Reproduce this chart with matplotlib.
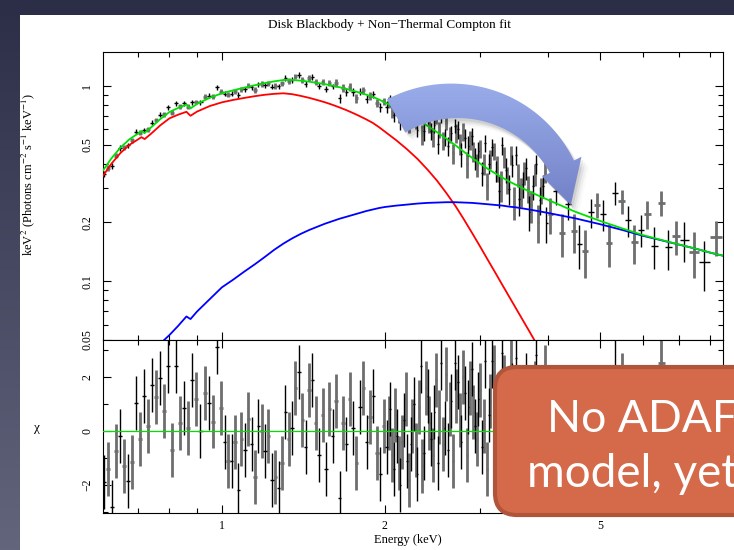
import numpy as np
import matplotlib
matplotlib.use("Agg")
import matplotlib.pyplot as plt
from matplotlib.patches import Polygon, FancyBboxPatch, Rectangle
from matplotlib.ticker import FixedLocator, NullFormatter

plt.rcParams['font.family'] = ['Liberation Serif', 'DejaVu Serif']
plt.rcParams['mathtext.fontset'] = 'stix'

# ---- spectrum: bin centres (keV), E^2 N(E), 1-sigma errors, residuals ----
bin_e = [
    0.605, 0.615, 0.626, 0.637, 0.648, 0.659, 0.670, 0.682, 0.694, 0.706,
    0.718, 0.730, 0.743, 0.756, 0.769, 0.782, 0.796, 0.809, 0.823, 0.838,
    0.852, 0.867, 0.882, 0.897, 0.913, 0.929, 0.945, 0.961, 0.978, 0.995,
    1.012, 1.027, 1.042, 1.057, 1.072, 1.087, 1.103, 1.119, 1.135, 1.151,
    1.168, 1.185, 1.202, 1.219, 1.237, 1.255, 1.273, 1.291, 1.310, 1.329,
    1.348, 1.368, 1.388, 1.408, 1.428, 1.449, 1.470, 1.491, 1.513, 1.535,
    1.557, 1.580, 1.603, 1.626, 1.650, 1.674, 1.698, 1.723, 1.748, 1.773,
    1.799, 1.825, 1.852, 1.879, 1.906, 1.934, 1.962, 1.990,
    2.019, 2.048, 2.078, 2.108, 2.139, 2.170, 2.201, 2.233, 2.266, 2.299,
    2.332, 2.366, 2.400, 2.435, 2.471, 2.507, 2.543, 2.580, 2.618, 2.656,
    2.694, 2.734, 2.773, 2.814, 2.855, 2.896, 2.938, 2.981, 3.025, 3.069,
    3.113, 3.159, 3.205, 3.251, 3.299, 3.347, 3.395, 3.445, 3.495, 3.546,
    3.597, 3.650, 3.703, 3.757, 3.811, 3.867, 3.923, 3.980,
    4.05, 4.15, 4.25, 4.36, 4.47, 4.58, 4.70, 4.82, 4.94, 5.07,
    5.20, 5.34, 5.48, 5.63, 5.79, 5.95, 6.12, 6.30, 6.49, 6.69,
    6.90, 7.15, 7.45, 7.80, 8.20,
]
flux = [
    0.354, 0.381, 0.389, 0.440, 0.482, 0.485, 0.496, 0.526, 0.583, 0.577,
    0.594, 0.602, 0.648, 0.670, 0.712, 0.716, 0.780, 0.730, 0.817, 0.786,
    0.815, 0.782, 0.824, 0.829, 0.825, 0.880, 0.892, 0.889, 0.984, 0.937,
    0.914, 0.904, 0.913, 0.942, 0.899, 0.963, 0.961, 1.003, 0.984, 0.956,
    1.022, 1.025, 1.011, 1.036, 0.993, 1.003, 0.997, 1.033, 1.100, 1.059,
    1.070, 1.121, 1.139, 1.069, 1.028, 1.101, 1.111, 1.049, 0.999, 1.047,
    0.967, 1.038, 0.995, 1.038, 0.866, 0.976, 0.929, 0.989, 0.930, 0.864,
    0.936, 0.954, 0.863, 0.888, 0.907, 0.817, 0.777, 0.836,
    0.782, 0.845, 0.707, 0.757, 0.646, 0.755, 0.663, 0.677, 0.734, 0.595,
    0.812, 0.587, 0.703, 0.589, 0.632, 0.507, 0.700, 0.550, 0.492, 0.572,
    0.626, 0.600, 0.447, 0.540, 0.495, 0.557, 0.426, 0.462, 0.359, 0.510,
    0.401, 0.486, 0.368, 0.291, 0.496, 0.373, 0.298, 0.393, 0.444, 0.264,
    0.315, 0.379, 0.227, 0.307, 0.398, 0.261, 0.309, 0.199,
    0.220, 0.290, 0.177, 0.249, 0.180, 0.155, 0.143, 0.226, 0.247, 0.221,
    0.157, 0.283, 0.258, 0.205, 0.158, 0.184, 0.222, 0.152, 0.253, 0.149,
    0.170, 0.163, 0.141, 0.125, 0.169,
]
flux_err = [
    0.011, 0.012, 0.013, 0.014, 0.015, 0.015, 0.016, 0.016, 0.017, 0.017,
    0.017, 0.018, 0.019, 0.019, 0.020, 0.021, 0.022, 0.022, 0.023, 0.023,
    0.024, 0.023, 0.023, 0.024, 0.025, 0.025, 0.026, 0.026, 0.027, 0.027,
    0.028, 0.028, 0.028, 0.029, 0.029, 0.029, 0.029, 0.030, 0.030, 0.030,
    0.030, 0.031, 0.031, 0.031, 0.032, 0.032, 0.032, 0.032, 0.038, 0.037,
    0.037, 0.037, 0.037, 0.037, 0.037, 0.037, 0.036, 0.036, 0.036, 0.036,
    0.036, 0.035, 0.035, 0.045, 0.044, 0.043, 0.043, 0.042, 0.042, 0.041,
    0.041, 0.040, 0.040, 0.039, 0.039, 0.038, 0.038, 0.037,
    0.057, 0.056, 0.055, 0.054, 0.053, 0.051, 0.050, 0.049, 0.048, 0.047,
    0.066, 0.064, 0.062, 0.061, 0.059, 0.058, 0.056, 0.055, 0.053, 0.052,
    0.050, 0.063, 0.061, 0.059, 0.058, 0.056, 0.054, 0.052, 0.051, 0.050,
    0.048, 0.047, 0.046, 0.055, 0.054, 0.053, 0.052, 0.051, 0.050, 0.048,
    0.047, 0.047, 0.046, 0.045, 0.044, 0.043, 0.043, 0.042,
    0.046, 0.045, 0.044, 0.042, 0.041, 0.040, 0.039, 0.038, 0.037, 0.040,
    0.039, 0.038, 0.037, 0.037, 0.036, 0.035, 0.037, 0.037, 0.036, 0.035,
    0.034, 0.038, 0.037, 0.036, 0.035,
]
chi = [
    -1.9, -1.4, -2.8, -0.75, -0.2, -1.3, -1.85, -1.15, 1.05, -0.3,
    1.3, 0.2, 1.7, 1.25, 1.95, 0.75, 2.4, -0.7, 2.4, 0.3,
    0.85, 0.1, 1.9, 1.2, 0.0, 1.4, 1.05, 0.35, 3.1, 0.85,
    -0.4, -1.1, -1.1, -0.4, -2.2, -0.3, -0.7, 0.45, -0.5, -1.7,
    0.2, 0.0, -0.75, -0.2, -1.8, -1.7, -2.1, -1.2, 0.7, -0.3,
    0.1, 1.6, 2.2, 0.4, -0.6, 1.5, 1.9, 0.3, -0.9, 0.6,
    -1.4, 0.8, -0.2, 1.1, -2.5, 0.3, -0.5, 1.2, 0.1, -1.2,
    0.9, 1.6, -0.4, 0.5, 1.3, -0.8, -1.6, 0.2,
    -0.6, 0.8, -1.4, -0.2, -2.0, 0.4, -1.1, -0.5, 1.0, -1.6,
    2.4, -0.8, 1.3, -0.3, 0.7, -1.2, 2.5, 0.1, -0.7, 1.1,
    2.5, 1.8, -0.4, 1.4, 0.9, 2.3, 0.2, 1.2, -0.6, 2.6,
    0.6, 2.6, 0.3, -1.0, 2.9, 0.8, -0.5, 1.5, 2.7, -0.8,
    0.4, 1.9, -1.3, 0.6, 2.8, -0.2, 1.0, -1.5,
    -0.8, 0.9, -1.5, 0.3, -1.2, -1.7, -1.9, 0.4, 1.1, 0.5,
    -1.0, 2.4, 1.9, 0.6, -0.6, 0.3, 1.4, -0.4, 2.5, -0.3,
    0.4, 0.3, -0.2, -0.5, 0.9,
]

# finer channels interleaved in the 2-4 keV band
extra_e = [
    2.034, 2.063, 2.093, 2.124, 2.155, 2.186, 2.217, 2.250, 2.283, 2.316,
    2.349, 2.383, 2.418, 2.453, 2.489, 2.525, 2.562, 2.599, 2.637, 2.675,
    2.714, 2.754, 2.794, 2.835, 2.876, 2.917, 2.960, 3.003, 3.047, 3.091,
    3.136, 3.182, 3.228, 3.275, 3.323, 3.371, 3.420, 3.470, 3.521, 3.572,
    3.624, 3.677, 3.730, 3.784, 3.839, 3.895, 3.952,
]
extra_flux = [
    0.824, 0.742, 0.809, 0.696, 0.723, 0.789, 0.623, 0.707, 0.648, 0.725,
    0.565, 0.734, 0.636, 0.547, 0.696, 0.597, 0.525, 0.650, 0.565, 0.452,
    0.576, 0.503, 0.585, 0.398, 0.528, 0.463, 0.395, 0.478, 0.400, 0.310,
    0.423, 0.464, 0.380, 0.311, 0.433, 0.334, 0.444, 0.255, 0.352, 0.288,
    0.359, 0.300, 0.245, 0.353, 0.201, 0.293, 0.361,
]
extra_err = [
    0.056, 0.055, 0.054, 0.053, 0.052, 0.051, 0.050, 0.049, 0.048, 0.066,
    0.065, 0.063, 0.062, 0.060, 0.058, 0.057, 0.055, 0.054, 0.052, 0.051,
    0.064, 0.062, 0.060, 0.059, 0.057, 0.055, 0.053, 0.052, 0.051, 0.049,
    0.048, 0.047, 0.056, 0.055, 0.054, 0.053, 0.051, 0.050, 0.049, 0.048,
    0.048, 0.047, 0.046, 0.045, 0.044, 0.043, 0.043,
]
extra_chi = [
    0.3, -0.9, 0.6, -1.2, -0.4, 1.2, -1.8, 0.2, -0.7, 0.9,
    -1.3, 1.6, 0.3, -0.9, 1.9, 0.5, -0.5, 2.1, 0.8, -1.1,
    1.3, 0.4, 2.0, -0.9, 1.6, 0.7, -0.3, 1.5, 0.2, -1.4,
    1.1, 2.2, 0.5, -0.6, 1.8, 0.1, 2.4, -1.2, 0.9, -0.3,
    1.3, 0.2, -0.9, 1.6, -1.7, 0.5, 2.2,
]

# ---- model components ----
model_e = [0.60, 0.625, 0.65, 0.675, 0.70, 0.71, 0.72, 0.74, 0.77, 0.80,
           0.83, 0.86, 0.875, 0.90, 0.95,
           1.00, 1.05, 1.10, 1.15, 1.20, 1.25, 1.30, 1.35, 1.40, 1.45,
           1.50, 1.55, 1.60, 1.65, 1.70, 1.75, 1.80, 1.85, 1.90, 1.95,
           2.0, 2.1, 2.2, 2.3, 2.4, 2.5, 2.6, 2.7, 2.8, 2.9,
           3.0, 3.1, 3.2, 3.3, 3.4, 3.5, 3.6, 3.7, 3.8, 3.9, 4.0,
           4.5, 5.0, 5.5, 6.0, 6.5, 7.0, 7.5, 8.0, 8.45]
diskbb = [0.340, 0.400, 0.455, 0.500, 0.533, 0.547, 0.535, 0.570, 0.630, 0.683,
          0.713, 0.738, 0.704, 0.740, 0.790,
          0.825, 0.849, 0.869, 0.887, 0.902, 0.912, 0.918, 0.908, 0.890, 0.870,
          0.848, 0.826, 0.802, 0.777, 0.752, 0.726, 0.700, 0.674, 0.648, 0.617,
          0.585, 0.528, 0.474, 0.423, 0.373, 0.327, 0.283, 0.244, 0.208, 0.177,
          0.151, 0.129, 0.111, 0.0957, 0.083, 0.0723, 0.0632, 0.0555, 0.0488,
          0.043, 0.0378,
          0.017, 0.0078, 0.0034, 0.0014, 0.0006, 0.00025, 0.0001, 0.00004, 0.00002]
compton = [0.022, 0.026, 0.030, 0.034, 0.038, 0.040, 0.040, 0.044, 0.048, 0.053,
           0.059, 0.066, 0.064, 0.070, 0.081,
           0.093, 0.102, 0.112, 0.122, 0.133, 0.145, 0.156, 0.166, 0.175, 0.183,
           0.190, 0.197, 0.203, 0.209, 0.214, 0.219, 0.224, 0.229, 0.233, 0.237,
           0.240, 0.244, 0.247, 0.250, 0.252, 0.253, 0.254, 0.254, 0.253, 0.252,
           0.250, 0.248, 0.246, 0.244, 0.241, 0.239, 0.236, 0.233, 0.230,
           0.227, 0.224,
           0.210, 0.196, 0.183, 0.171, 0.162, 0.154, 0.147, 0.140, 0.135]

order = np.argsort(bin_e + extra_e)
E = np.array(bin_e + extra_e)[order]
flux = np.array(flux + extra_flux)[order]
flux_err = np.array(flux_err + extra_err)[order]
chi = np.array(chi + extra_chi)[order]
total = np.array(diskbb) + np.array(compton)

# bin edges half way (in log) between neighbouring centres
mid = np.sqrt(E[:-1] * E[1:])
lo = np.r_[E[0] ** 2 / mid[0], mid]
hi = np.r_[mid, E[-1] ** 2 / mid[-1]]
xerr = np.vstack([E - lo, hi - E])

W, H = 734, 550
fig = plt.figure(figsize=(W / 100, H / 100), dpi=100)

# slide background
bg = fig.add_axes([0, 0, 1, 1], zorder=0)
bg.set_xlim(0, W)
bg.set_ylim(0, H)
bg.axis('off')
c_top = np.array([0x2b, 0x2e, 0x46]) / 255
c_bot = np.array([0x62, 0x65, 0x7c]) / 255
ramp = np.linspace(0, 1, 256)[:, None, None]
bg.imshow(c_top + (c_bot - c_top) * ramp, extent=(0, 20, 0, H), aspect='auto')
bg.add_patch(Rectangle((0, H - 15), W, 15, color=c_top, lw=0))
bg.add_patch(Rectangle((20, 0), W - 20, H - 15, color='white', lw=0))

ax1 = fig.add_axes([103 / W, (H - 340) / H, 620 / W, 288 / H], zorder=1)
ax2 = fig.add_axes([103 / W, (H - 513) / H, 620 / W, 173 / H], zorder=1)

for k, (col, lw) in enumerate([('#6e6e6e', 2.0), ('black', 1.0)]):
    sl = slice(1 - k, None, 2)
    ax1.errorbar(E[sl], flux[sl], xerr=xerr[:, sl], yerr=flux_err[sl], fmt='none',
                 ecolor=col, elinewidth=lw, capsize=0, zorder=2)
    ax2.errorbar(E[sl], chi[sl], xerr=xerr[:, sl], yerr=1.0, fmt='none',
                 ecolor=col, elinewidth=lw, capsize=0, zorder=2)

ax1.plot(model_e, diskbb, color='#ff0000', lw=1.3, zorder=3)
ax1.plot(model_e, compton, color='#0000ff', lw=1.3, zorder=3)
ax1.plot(model_e, total, color='#00e000', lw=1.3, zorder=4)
ax2.axhline(0, color='#00e000', lw=0.9, zorder=3)

for ax in (ax1, ax2):
    ax.set_facecolor('white')
    ax.set_xscale('log')
    ax.set_xlim(0.603, 8.44)
    ax.xaxis.set_major_locator(FixedLocator([1, 2, 5]))
    ax.xaxis.set_minor_locator(FixedLocator([0.7, 0.8, 0.9, 3, 4, 6, 7, 8]))
    ax.xaxis.set_minor_formatter(NullFormatter())
    ax.tick_params(which='both', direction='in', top=True, right=True,
                   width=0.8, labelsize=8.5)
    ax.tick_params(which='major', length=6)
    ax.tick_params(which='minor', length=3.3)
    ax.tick_params(axis='y', pad=7)
    ax.tick_params(axis='x', pad=5)
    for s in ax.spines.values():
        s.set_linewidth(0.8)

ax1.set_yscale('log')
ax1.set_ylim(0.05, 1.494)
ax1.yaxis.set_major_locator(FixedLocator([0.05, 0.1, 0.2, 0.5, 1]))
ax1.yaxis.set_minor_locator(FixedLocator([0.06, 0.07, 0.08, 0.09, 0.3, 0.4,
                                          0.6, 0.7, 0.8, 0.9]))
ax1.yaxis.set_minor_formatter(NullFormatter())
ax1.set_yticklabels(['0.05', '0.1', '0.2', '0.5', '1'])
ax1.set_xticklabels([])

ax2.set_ylim(-3.04, 3.37)
ax2.yaxis.set_major_locator(FixedLocator([-2, 0, 2]))
ax2.yaxis.set_minor_locator(FixedLocator([-3, -1, 1, 3]))
ax2.set_yticklabels(['\u22122', '0', '2'])
ax2.set_xticklabels(['1', '2', '5'])

for ax in (ax1, ax2):
    for lab in ax.get_yticklabels():
        lab.set_rotation(90)
        lab.set_va('center')

ax1.set_ylabel(r'keV$^2$ (Photons cm$^{-2}$ s$^{-1}$ keV$^{-1}$)', fontsize=9)
ax1.yaxis.set_label_coords(-0.106, 0.573)
ax2.set_ylabel('\u03c7', fontsize=9.5, rotation=0, va='center', ha='center')
ax2.yaxis.set_label_coords(-0.106, 0.49)
ax2.set_xlabel('Energy (keV)', fontsize=9)
ax2.xaxis.set_label_coords(0.491, -0.12)

fig.text(389 / W, 1 - 25 / H, 'Disk Blackbody + Non\u2212Thermal Compton fit',
         ha='center', va='center', fontsize=9.5)

# overlay: curved arrow and call-out box
ov = fig.add_axes([0, 0, 1, 1], zorder=5)
ov.set_xlim(0, W)
ov.set_ylim(0, H)
ov.axis('off')
ov.patch.set_alpha(0)

cx, cy, r = 454.5, 328.6, 120.5
th = np.radians(np.linspace(119, 27, 80))
wd = np.linspace(38, 27, 80)
outer = np.c_[cx + (r + wd / 2) * np.cos(th), cy + (r + wd / 2) * np.sin(th)]
inner = np.c_[cx + (r - wd / 2) * np.cos(th), cy + (r - wd / 2) * np.sin(th)]


def polar(ang, rad):
    a = np.radians(ang)
    return [cx + rad * np.cos(a), cy + rad * np.sin(a)]


pts = np.vstack([outer, [polar(27, r + 22)], [polar(8, r - 3)],
                 [polar(27, r - 22)], inner[::-1]])

for dx, dy, a in [(2, -3, 0.08), (4, -5, 0.06), (6, -7, 0.04), (8, -9, 0.02)]:
    ov.add_patch(Polygon(pts + [dx, dy], closed=True, fc='black', alpha=a, lw=0))

shape = Polygon(pts, closed=True, fc='none', ec='none')
ov.add_patch(shape)
a_top = np.array([0x9c, 0xaf, 0xec]) / 255
a_bot = np.array([0x70, 0x7e, 0xc4]) / 255
fill = ov.imshow(a_top + (a_bot - a_top) * ramp, extent=(370, 600, 335, 475),
                 aspect='auto', zorder=2)
fill.set_clip_path(shape)

ov.add_patch(FancyBboxPatch((495, H - 515), 300, 148,
                            boxstyle='round,pad=0,rounding_size=22',
                            fc='#d56a4a', ec='#b0553a', lw=3, zorder=3))
ov.text(547, H - 432, 'No ADAF', ha='left', va='baseline', color='white',
        fontsize=32, family='Lato', zorder=4)
ov.text(527, H - 487, 'model, yet', ha='left', va='baseline', color='white',
        fontsize=33, family='Lato', zorder=4)

fig.savefig('out.png', dpi=100)
